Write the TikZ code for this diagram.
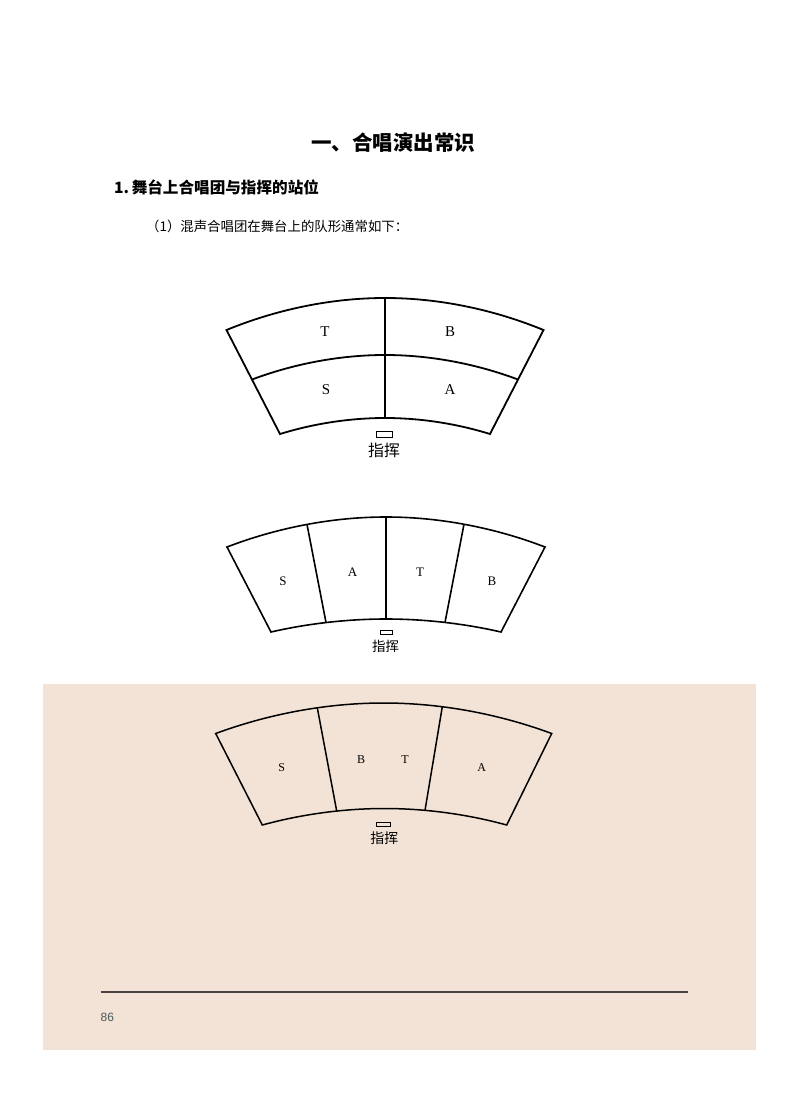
\documentclass[tikz,border=0pt]{standalone}
\usepackage{fontspec}
\setmainfont{Liberation Serif}
\newfontfamily\cjk{Noto Sans CJK SC}
\newfontfamily\pnum{Liberation Sans}
\definecolor{panel}{HTML}{F2E3D6}
\definecolor{rulec}{HTML}{4A4242}
\definecolor{pagec}{HTML}{4A5859}
\begin{document}
\begin{tikzpicture}[x=1pt,y=-1pt,
  stage/.style={line width=1.8pt,line join=miter},
  stagemid/.style={line width=1.6pt,line join=miter},
  stagethin/.style={line width=1.5pt,line join=miter},
  podium/.style={line width=0.9pt},
  part/.style={inner sep=0pt,font=\fontsize{15}{15}\selectfont},
  partsm/.style={inner sep=0pt,font=\fontsize{13}{13}\selectfont},
  partxs/.style={inner sep=0pt,font=\fontsize{12}{12}\selectfont},
  cond/.style={inner sep=0pt,font=\cjk\fontsize{#1}{#1}\selectfont}]
\useasboundingbox (0,0) rectangle (800,1094);
\fill[white] (0,0) rectangle (800,1094);
% panel
\fill[panel] (43.3,684) rectangle (756,1050);
% texts
\node[anchor=west,inner sep=0pt,font=\cjk\bfseries\fontsize{20.5}{20.5}\selectfont] (title) at (311,142.5) {一、合唱演出常识};
\node[anchor=west,inner sep=0pt,font=\cjk\bfseries\fontsize{15.6}{15.6}\selectfont] (head) at (114,187.5) {1.\,舞台上合唱团与指挥的站位};
\node[anchor=west,inner sep=0pt,font=\cjk\fontsize{13.4}{13.4}\selectfont] (sub) at (146,226) {（1）混声合唱团在舞台上的队形通常如下：};

% ---------- diagram 1 ----------
\coordinate (aoL) at (226.5,330); \coordinate (aoA) at (385,298); \coordinate (aoR) at (543.5,330);
\coordinate (amL) at (252,379.5); \coordinate (amA) at (385,355); \coordinate (amR) at (518,379.5);
\coordinate (aiL) at (280,434); \coordinate (aiA) at (385,418); \coordinate (aiR) at (490,434);
\draw[stage] (aoL) parabola bend (aoA) (aoR) -- (aiR) parabola bend (aiA) (aiL) -- cycle;
\draw[stage] (amL) parabola bend (amA) (amR);
\draw[stage] (aoA) -- (aiA);
\node[part] (aT) at (325,331.5) {T};
\node[part] (aB) at (450,331.5) {B};
\node[part] (aS) at (326,390) {S};
\node[part] (aA) at (450,390) {A};
\draw[podium] (376.7,431.7) rectangle (392.7,437.3);
\node[cond=16] (acond) at (384,450.5) {指挥};

% ---------- diagram 2 ----------
\coordinate (boL) at (227,547); \coordinate (boA) at (386,517); \coordinate (boR) at (545,547);
\coordinate (biL) at (271,632); \coordinate (biA) at (386,619); \coordinate (biR) at (501,632);
\coordinate (bt1) at (307,524.4); \coordinate (bb1) at (326,622.5);
\coordinate (bt3) at (464,524.2); \coordinate (bb3) at (445,622.4);
\draw[stagemid] (boL) parabola bend (boA) (boR) -- (biR) parabola bend (biA) (biL) -- cycle;
\draw[stagemid] (bt1) -- (bb1);
\draw[stagemid] (boA) -- (biA);
\draw[stagemid] (bt3) -- (bb3);
\node[partsm] (bS) at (283,581.5) {S};
\node[partsm] (bA) at (352.5,572) {A};
\node[partsm] (bT) at (420,572) {T};
\node[partsm] (bB) at (492,581.5) {B};
\draw[podium] (380,630) rectangle (392.7,634.7);
\node[cond=13.5] (bcond) at (385.5,646) {指挥};

% ---------- diagram 3 ----------
\coordinate (coL) at (215.7,733.5); \coordinate (coA) at (383.7,703); \coordinate (coR) at (551.7,733.5);
\coordinate (ciL) at (262.3,825); \coordinate (ciA) at (384.5,808.5); \coordinate (ciR) at (506.7,825);
\coordinate (ct1) at (317.3,707.8); \coordinate (cb1) at (336.7,811);
\coordinate (ct2) at (442.3,706.7); \coordinate (cb2) at (425,810.3);
\draw[stagethin] (coL) parabola bend (coA) (coR) -- (ciR) parabola bend (ciA) (ciL) -- cycle;
\draw[stagethin] (ct1) -- (cb1);
\draw[stagethin] (ct2) -- (cb2);
\node[partxs] (cS) at (281.7,767.3) {S};
\node[partxs] (cB) at (361,760) {B};
\node[partxs] (cT) at (405,760) {T};
\node[partxs] (cA) at (481.7,767.3) {A};
\draw[podium] (376.7,822.3) rectangle (390.7,826.7);
\node[cond=14] (ccond) at (384.3,838.3) {指挥};

% footer
\coordinate (ruleL) at (100.5,992); \coordinate (ruleR) at (688,992);
\draw[rulec,line width=1.3pt] (ruleL) -- (ruleR);
\node[anchor=west,inner sep=0pt,text=pagec,font=\pnum\fontsize{12}{12}\selectfont] (page) at (100.5,1017.5) {86};
\end{tikzpicture}
\end{document}
